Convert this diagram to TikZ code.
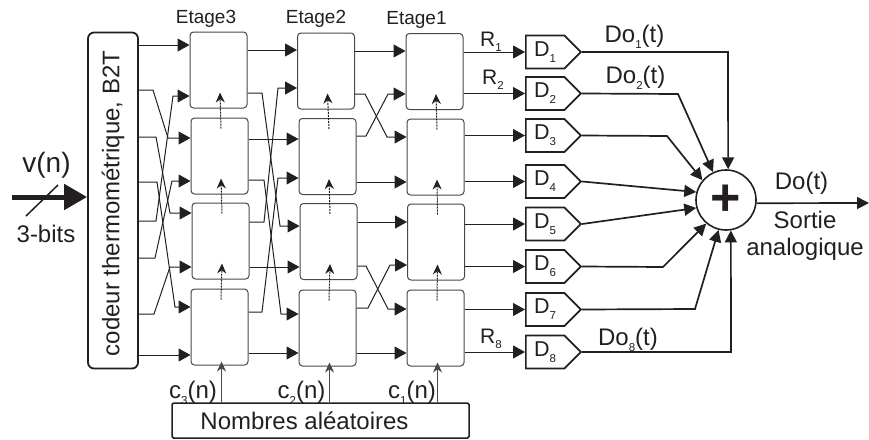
\documentclass[tikz,border=0pt]{standalone}
\usepackage{fontspec}
\setmainfont{Liberation Sans}
\usetikzlibrary{arrows.meta,shapes.symbols}
\definecolor{ink}{HTML}{231F20}
\definecolor{edge}{HTML}{4A4748}
\newcommand{\idx}[1]{\raisebox{-.28em}{\fontsize{11.5}{12}\selectfont #1}}
\begin{document}
\begin{tikzpicture}[x=1pt,y=-1pt,every node/.style={text=ink,font=\fontsize{24}{27}\selectfont},
  stagebox/.style={draw=edge,line width=1pt,rounded corners=3.5pt,minimum width=57pt,minimum height=76pt,inner sep=0pt},
  dac/.style={draw=ink,line width=1.7pt,signal,signal to=east,signal pointer angle=90,minimum width=55pt,minimum height=33pt,inner sep=0pt,anchor=west,font=\fontsize{21.5}{24}\selectfont},
  wire/.style={draw=ink,line width=1pt,-{Triangle[length=12pt,width=13pt]}},
  bus/.style={draw=ink,line width=1.7pt,-{Triangle[length=12pt,width=12pt]}},
  ctrl/.style={draw=ink,line width=1pt,dash pattern=on 2pt off 1pt,-{Stealth[length=10pt,width=9pt]}},
  seed/.style={draw=edge,line width=1.1pt,-{Stealth[length=10pt,width=9pt]}}]
\useasboundingbox (0,0) rectangle (869,439);
\node[draw=ink,line width=1.8pt,rounded corners=6pt,minimum width=336pt,minimum height=50pt,inner sep=0pt,rotate=90] (coder) at (113,200.5) {\raisebox{1.5pt}{codeur thermométrique, B2T}\hspace*{6pt}};
\foreach \nd/\cx/\cy in {s31/218.5/70,s32/219.5/156,s33/220.5/241,s34/219.5/327,s21/326/71,s22/327.5/156.5,s23/328.5/241.5,s24/327.5/328,s11/434.5/71.5,s12/435.5/157,s13/436/242,s14/435.5/328}
  \node[stagebox] (\nd) at (\cx,\cy) {};
\foreach \i/\cy in {1/52,2/93.5,3/135.5,4/181.5,5/224,6/266.5,7/309.5,8/352}
  \node[dac] (d\i) at (525,\cy) {D\idx{\i}};
\node[draw=ink,line width=1.6pt,circle,minimum size=60pt,inner sep=0pt,font=\fontsize{52}{52}\bfseries\selectfont] (sum) at (726,200) {+};
\node[draw=ink,line width=1.5pt,rounded corners=1.5pt,minimum width=297pt,minimum height=35pt,inner sep=0pt] (rand) at (320.5,420.5) {\hspace*{-32pt}Nombres aléatoires};
\coordinate (vin) at (12,197);
\coordinate (out) at (869,203);
\foreach \src/\dst/\yy in {coder.south/s31.west/45,coder.south/s34.west/355,s31.east/s21.west/50,s32.east/s22.west/139,s33.east/s23.west/267,s34.east/s24.west/353,s21.east/s11.west/51,s22.east/s12.west/182,s23.east/s13.west/222,s24.east/s14.west/353}
  \draw[wire] (\src |- 0,\yy) -- (\dst |- 0,\yy);
\foreach \src/\dst/\ya/\xa/\xb/\yb in {coder.south/s32.west/90/153/168/138,coder.south/s33.west/137/156/170/213,coder.south/s34.west/182/157/175/307,coder.south/s31.west/221/156/173/96,coder.south/s32.west/258/155/172/181,coder.south/s33.west/314/154/170/267,
  s31.east/s23.west/93/262/280/226,s33.east/s21.west/222/264/278/88,s32.east/s24.west/180/264/281/314,s34.east/s22.west/312/262/278/178,
  s21.east/s12.west/94/365/387/137,s22.east/s11.west/136/366/388/94,s23.east/s14.west/266/366/388/309,s24.east/s13.west/308/368/390/265}
  \draw[wire] (\src |- 0,\ya) -- (\xa,\ya) -- (\xb,\yb) -- (\dst |- 0,\yb);
\foreach \i/\j in {1/1,1/2,2/3,2/4,3/5,3/6,4/7,4/8}
  \draw[wire] (s1\i.east |- d\j.west) -- (d\j.west);
\foreach \low/\upr in {s32/s31,s33/s32,s34/s33,s22/s21,s23/s22,s24/s23,s12/s11,s13/s12,s14/s13}
  \draw[ctrl] ([xshift=1.5pt,yshift=-11pt]\low.north) -- ([xshift=1.5pt,yshift=16pt]\upr.south);
\foreach \blk in {s34,s24,s14}
  \draw[seed] ([xshift=2pt]\blk.south |- rand.north) -- ([xshift=2pt,yshift=4pt]\blk.south);
\foreach \i/\xa/\ya/\ang in {1/728/52/86,2/678/94/115,3/667/136/140,6/663/267/230,7/695/309/256,8/731/352/279}
  \draw[bus] (d\i.east) -- (\xa,\ya) -- (sum.\ang);
\draw[bus] (d4.east) -- (sum.165);
\draw[bus] (d5.east) -- (sum.195);
\draw[bus] (sum.-6) -- (out);
\draw[draw=ink,line width=5pt,-{Triangle[length=23pt,width=25pt]}] (vin) -- (coder.north |- vin);
\draw[ink,line width=1.5pt] (26,216) -- (58,185);
\node[anchor=base,font=\fontsize{28}{30}\selectfont] (vn) at (46.5,172) {v(n)};
\node[anchor=base] (bits) at (46,242) {3-bits};
\foreach \nd/\cx/\by/\txt in {e3/206/23/Etage3,e2/316/23/Etage2,e1/416.5/24/Etage1}
  \node[anchor=base,font=\fontsize{19}{22}\selectfont] (\nd) at (\cx,\by) {\txt};
\foreach \nd/\cx/\by/\i in {r1/491/46/1,r2/493/84/2,r8/491/343/8}
  \node[anchor=base,font=\fontsize{21}{22}\selectfont] (\nd) at (\cx,\by) {R\idx{\i}};
\foreach \nd/\cx/\by/\i in {do1/634.5/42/1,do2/635.5/83/2,do8/628/345/8}
  \node[anchor=base] (\nd) at (\cx,\by) {Do\idx{\i}(t)};
\foreach \nd/\cx/\i in {c3/193/3,c2/301.5/2,c1/412/1}
  \node[anchor=base] (\nd) at (\cx,398) {c\idx{\i}(n)};
\node[anchor=base] (dot) at (801.5,189) {Do(t)};
\node[align=center] (lab) at (805,236) {Sortie\\analogique};
\end{tikzpicture}
\end{document}
